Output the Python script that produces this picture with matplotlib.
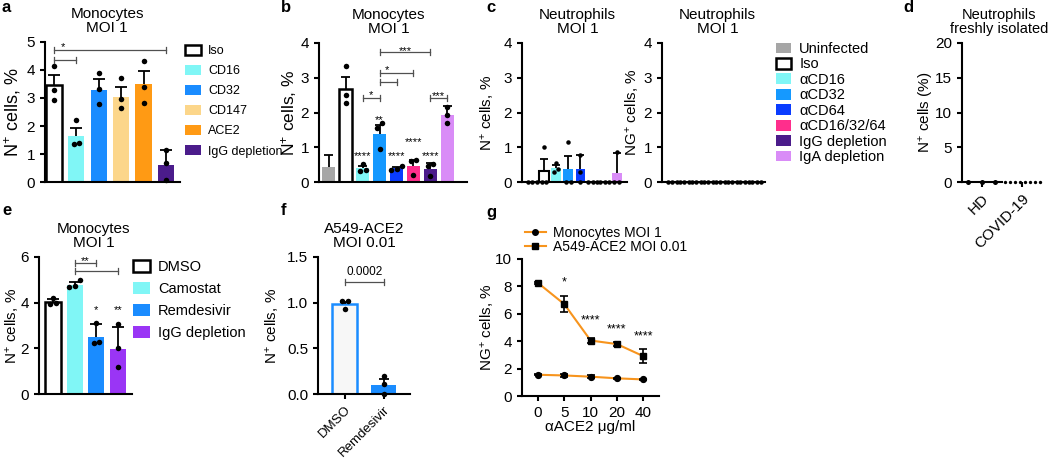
import numpy as np
import matplotlib
matplotlib.use('Agg')
import matplotlib.pyplot as plt
from matplotlib.patches import Patch
from matplotlib.lines import Line2D

# ---------------- data ----------------
a_labels = ['Iso', 'CD16', 'CD32', 'CD147', 'ACE2', 'IgG depletion']
a_means = [3.46, 1.64, 3.29, 3.05, 3.49, 0.62]
a_err = [0.37, 0.30, 0.38, 0.34, 0.46, 0.54]
a_points = [[4.13, 3.30, 2.93], [2.22, 1.38, 1.35], [3.91, 3.31, 2.79],
            [3.71, 2.95, 2.63], [4.31, 3.41, 2.81], [1.14, 0.69, 0.06]]

bc_labels = ['Uninfected', 'Iso', 'αCD16', 'αCD32', 'αCD64', 'αCD16/32/64',
             'IgG depletion', 'IgA depletion']
b_means = [0.44, 2.68, 0.40, 1.38, 0.39, 0.46, 0.37, 1.93]
b_err = [0.33, 0.34, 0.07, 0.26, 0.05, 0.18, 0.17, 0.25]
b_points = [[], [3.33, 2.51, 2.28], [0.53, 0.35, 0.32], [1.71, 1.56, 0.94],
            [0.46, 0.38, 0.35], [0.63, 0.61, 0.21], [0.52, 0.45, 0.16],
            [2.17, 1.93, 1.71]]

c1_means = [0.0, 0.31, 0.41, 0.37, 0.37, 0.0, 0.0, 0.27]
c1_err = [0.0, 0.35, 0.07, 0.38, 0.40, 0.0, 0.0, 0.57]
c1_points = [[0, 0, 0], [1.0, 0, 0], [0.56, 0.38, 0.29], [1.15, 0, 0],
             [0.79, 0.3, 0], [0, 0, 0], [0, 0, 0], [0.85, 0, 0]]

c2_means = [0, 0, 0, 0, 0, 0, 0, 0]
c2_points = [[0, 0, 0]] * 8

d_groups = ['HD', 'COVID-19']
d_hd = [0, 0, 0]
d_covid = [0, 0, 0, 0, 0, 0, 0, 0]

e_labels = ['DMSO', 'Camostat', 'Remdesivir', 'IgG depletion']
e_means = [4.02, 4.77, 2.50, 1.95]
e_err = [0.14, 0.14, 0.55, 1.0]
e_points = [[4.22, 3.97, 3.92], [4.98, 4.74, 4.69], [3.12, 2.25, 2.27],
            [3.06, 2.0, 1.19]]

f_labels = ['DMSO', 'Remdesivir']
f_means = [0.98, 0.10]
f_err = [0.03, 0.06]
f_points = [[1.02, 1.02, 0.93], [0.20, 0.11, 0.0]]

g_conc = ['0', '5', '10', '20', '40']
g_mono = [1.55, 1.50, 1.41, 1.29, 1.21]
g_mono_err = [0.04, 0.10, 0.12, 0.05, 0.04]
g_a549 = [8.25, 6.70, 4.05, 3.79, 2.91]
g_a549_err = [0.10, 0.58, 0.15, 0.12, 0.53]

# ---------------- style ----------------
plt.rcParams.update({
    'font.family': ['Liberation Sans', 'DejaVu Sans'],
    'font.size': 11,
    'axes.linewidth': 1.5,
    'xtick.major.width': 1.5, 'ytick.major.width': 1.5,
    'xtick.major.size': 3.6, 'ytick.major.size': 3.6,
    'xtick.labelsize': 11, 'ytick.labelsize': 11,
    'mathtext.fontset': 'custom',
    'mathtext.rm': 'Liberation Sans',
    'mathtext.it': 'Liberation Sans:italic',
    'mathtext.bf': 'Liberation Sans:bold',
})

W, H = 1050, 462
fig = plt.figure(figsize=(W / 100, H / 100), dpi=100)


def rect(x0, y0, x1, y1):
    return [x0 / W, 1 - y1 / H, (x1 - x0) / W, (y1 - y0) / H]


def make_ax(x0, y0, x1, y1):
    ax = fig.add_axes(rect(x0, y0, x1, y1))
    ax.spines[['top', 'right']].set_visible(False)
    ax._px = (x0, x1)
    return ax


def ylabel_at(ax, text, right_px, fs=11):
    x0, x1 = ax._px
    ax.set_ylabel(text, fontsize=fs)
    ax.yaxis.set_label_coords((right_px - x0) / (x1 - x0), 0.5)


def swarm_offsets(vals, ypu, xpu, d):
    vals = np.asarray(vals, float)
    order = np.argsort(vals)
    offs = np.zeros(len(vals))
    clusters, cur = [], [order[0]]
    for i in order[1:]:
        if (vals[i] - vals[cur[-1]]) * ypu < d:
            cur.append(i)
        else:
            clusters.append(cur)
            cur = [i]
    clusters.append(cur)
    for cl in clusters:
        n = len(cl)
        for k, i in enumerate(cl):
            offs[i] = (k - (n - 1) / 2) * d / xpu
    return offs


def bar_panel(ax, means, errs, points, faces, edges, lws, width, ypu, xpu,
              dot_px, cap_px=5):
    x = np.arange(len(means))
    ax.bar(x, means, width=width, color=faces, edgecolor=edges,
           linewidth=lws, zorder=2)
    if errs is not None:
        for xi, m, e in zip(x, means, errs):
            if e > 0:
                ax.vlines(xi, m, m + e, color='black', lw=1.3, zorder=3)
                ax.hlines(m + e, xi - cap_px / xpu, xi + cap_px / xpu,
                          color='black', lw=1.3, zorder=3)
    for xi, pts in zip(x, points):
        if len(pts) == 0:
            continue
        off = swarm_offsets(pts, ypu, xpu, dot_px)
        ax.plot(xi + off, pts, 'o', color='black', ms=dot_px * 0.72, mew=0,
                zorder=4, clip_on=False)
    ax.set_xticks([])


def star(ax, x, y, s, fs=8):
    ax.annotate(s, (x, y), xytext=(0, -4.3), textcoords='offset points',
                ha='center', va='baseline', fontsize=fs, annotation_clip=False)


def bracket(ax, x1, x2, y, ypu, label=None, lx=None, fs=8, above_px=6):
    h = 3 / ypu
    kw = dict(color='#505050', lw=0.9, clip_on=False, zorder=5)
    ax.plot([x1, x2], [y, y], **kw)
    ax.plot([x1, x1], [y - h, y + h], **kw)
    ax.plot([x2, x2], [y - h, y + h], **kw)
    if label:
        star(ax, (x1 + x2) / 2 if lx is None else lx, y + above_px / ypu,
             label, fs)


def title(ax, text, xc, fs=11):
    t = ax.set_title(text, fontsize=fs, linespacing=1.05, pad=7)
    t.set_x(xc)


WHITE_EDGE = 1.8
cyan = '#80f6f6'
blue = '#1a8cff'
blue2 = '#1599ff'
dblue = '#0a3cff'
pink = '#ff2e8c'
dpurple = '#4b1c8b'
lilac = '#d98cf7'
gray = '#a6a6a6'
orange = '#ff9a14'
peach = '#fcd68a'
purple = '#9a35f5'
gorange = '#f7941d'

# ---------------- panel a ----------------
ax = make_ax(45, 42, 180, 182)
bar_panel(ax, a_means, a_err, a_points,
          ['white', cyan, blue, peach, orange, dpurple],
          ['black', 'none', 'none', 'none', 'none', 'none'],
          [WHITE_EDGE, 0, 0, 0, 0, 0], 0.72, 28, 22.4, 5.5, 6)
ax.set_xlim(-0.4, 5.63)
ax.set_ylim(0, 5)
ax.set_yticks([0, 1, 2, 3, 4, 5])
ylabel_at(ax, 'N$^{+}$ cells, %', 23, fs=13)
title(ax, 'Monocytes\nMOI 1', 0.46)
bracket(ax, 0, 1, 4.36, 28)
bracket(ax, 0, 5, 4.71, 28, '*', lx=0.42)
ha = [Patch(facecolor=f, edgecolor=e, linewidth=lw) for f, e, lw in
      zip(['white', cyan, blue, peach, orange, dpurple],
          ['black', cyan, blue, peach, orange, dpurple],
          [WHITE_EDGE, 0, 0, 0, 0, 0])]
ax.legend(ha, a_labels, loc='upper left', bbox_to_anchor=(185 / W, 1 - 45 / H),
          bbox_transform=fig.transFigure, frameon=False, fontsize=9,
          handlelength=1.25, handleheight=0.9, handletextpad=0.6,
          labelspacing=0.6, borderpad=0, borderaxespad=0)

# ---------------- panel b ----------------
bc_faces = [gray, 'white', cyan, blue2, dblue, pink, dpurple, lilac]
bc_edges = ['none', 'black'] + ['none'] * 6
bc_lws = [0, WHITE_EDGE] + [0] * 6
ax = make_ax(319, 43, 467, 182)
bar_panel(ax, b_means, b_err, b_points, bc_faces, bc_edges, bc_lws, 0.77,
          34.75, 16.9, 5.5, 4.5)
ax.set_xlim(-0.59, 8.17)
ax.set_ylim(0, 4)
ax.set_yticks([0, 1, 2, 3, 4])
ylabel_at(ax, 'N$^{+}$ cells, %', 299, fs=12.5)
title(ax, 'Monocytes\nMOI 1', 0.47)
for xi, yy, s in [(2, 0.83, '****'), (3, 1.87, '**'), (4, 0.83, '****'),
                  (5, 1.24, '****'), (6, 0.83, '****')]:
    star(ax, xi, yy, s)
bracket(ax, 2, 3, 2.41, 34.75, '*')
bracket(ax, 3, 4, 2.88, 34.75)
bracket(ax, 3, 5, 3.14, 34.75, '*', lx=3.45)
bracket(ax, 3, 6, 3.74, 34.75, '***', above_px=4)
bracket(ax, 6, 7, 2.41, 34.75, '***', above_px=5)

# ---------------- panel c ----------------
ax = make_ax(522, 43, 627, 182)
bar_panel(ax, c1_means, c1_err, c1_points, bc_faces, bc_edges,
          [0, 1.5] + [0] * 6, 0.8, 34.75, 12.1, 4.5, 4)
ax.set_xlim(-0.83, 7.85)
ax.set_ylim(0, 4)
ax.set_yticks([0, 1, 2, 3, 4])
ylabel_at(ax, 'N$^{+}$ cells, %', 496)
title(ax, 'Neutrophils\nMOI 1', 0.53)

ax = make_ax(662, 43, 765, 182)
bar_panel(ax, c2_means, None, c2_points, bc_faces, bc_edges,
          [0] * 8, 0.8, 34.75, 12.1, 4.5, 4)
ax.set_xlim(-0.83, 7.69)
ax.set_ylim(0, 4)
ax.set_yticks([0, 1, 2, 3, 4])
ylabel_at(ax, 'NG$^{+}$ cells, %', 641)
title(ax, 'Neutrophils\nMOI 1', 0.54)
hc = [Patch(facecolor=f, edgecolor=(e if e != 'none' else f), linewidth=lw)
      for f, e, lw in zip(bc_faces, bc_edges, bc_lws)]
ax.legend(hc, bc_labels, loc='upper left', bbox_to_anchor=(776 / W, 1 - 42 / H),
          bbox_transform=fig.transFigure, frameon=False, fontsize=10.5,
          handlelength=1.05, handleheight=0.75, handletextpad=0.55,
          labelspacing=0.1, borderpad=0, borderaxespad=0)

# ---------------- panel d ----------------
ax = make_ax(962, 43, 1045, 182)
hd_off = np.linspace(-0.34, 0.33, len(d_hd))
cv_off = np.linspace(-0.43, 0.45, len(d_covid))
ax.plot(0 + hd_off, d_hd, 'o', color='black', ms=3.6, mew=0, clip_on=False,
        zorder=4)
ax.plot(1 + cv_off, d_covid, 'o', color='black', ms=2.4, mew=0, clip_on=False,
        zorder=4)
ax.set_xlim(-0.5, 1.575)
ax.set_ylim(0, 20)
ax.set_yticks([0, 5, 10, 15, 20])
ax.spines['bottom'].set_bounds(-0.5, 0.5)
ax.set_xticks([0, 1])
ax.set_xticklabels(d_groups, rotation=45, ha='right', rotation_mode='anchor')
ylabel_at(ax, 'N$^{+}$ cells (%)', 936)
title(ax, 'Neutrophils\nfreshly isolated', 0.45, fs=10.5)

# ---------------- panel e ----------------
ax = make_ax(39, 257, 132, 394)
bar_panel(ax, e_means, e_err, e_points, ['white', cyan, blue, purple],
          ['black', 'none', 'none', 'none'], [WHITE_EDGE, 0, 0, 0], 0.74,
          22.83, 21.7, 5.5, 6)
ax.set_xlim(-0.645, 3.64)
ax.set_ylim(0, 6)
ax.set_yticks([0, 2, 4, 6])
ylabel_at(ax, 'N$^{+}$ cells, %', 21)
title(ax, 'Monocytes\nMOI 1', 0.59)
star(ax, 2, 3.8, '*')
star(ax, 3, 3.8, '**')
bracket(ax, 1, 2, 5.75, 22.83, '**', above_px=5)
bracket(ax, 1, 3, 5.4, 22.83)
he = [Patch(facecolor=f, edgecolor=e, linewidth=lw) for f, e, lw in
      zip(['white', cyan, blue, purple], ['black', cyan, blue, purple],
          [WHITE_EDGE, 0, 0, 0])]
ax.legend(he, e_labels, loc='upper left', bbox_to_anchor=(133 / W, 1 - 260 / H),
          bbox_transform=fig.transFigure, frameon=False, fontsize=10.5,
          handlelength=1.15, handleheight=0.9, handletextpad=0.55,
          labelspacing=0.55, borderpad=0, borderaxespad=0)

# ---------------- panel f ----------------
ax = make_ax(318, 257, 410, 394)
bar_panel(ax, f_means, f_err, f_points, ['#f7f7f7', blue], [blue, 'none'],
          [1.8, 0], 0.64, 91.3, 39, 5.5, 5)
ax.set_xlim(-0.69, 1.67)
ax.set_ylim(0, 1.5)
ax.set_yticks([0, 0.5, 1.0, 1.5])
ax.set_yticklabels(['0.0', '0.5', '1.0', '1.5'])
ax.set_xticks([0, 1])
ax.set_xticklabels(f_labels, rotation=45, ha='right', rotation_mode='anchor',
                   fontsize=9.5)
ylabel_at(ax, 'N$^{+}$ cells, %', 281)
title(ax, 'A549-ACE2\nMOI 0.01', 0.5)
bracket(ax, 0, 1, 1.23, 91.3)
ax.text(0.5, 1.23 + 4 / 91.3, '0.0002', ha='center', va='bottom', fontsize=8.5)

# ---------------- panel g ----------------
ax = make_ax(522, 259, 659, 396)
xg = np.arange(len(g_conc))
ax.plot(xg, g_mono, color=gorange, lw=1.5, zorder=2)
ax.plot(xg, g_a549, color=gorange, lw=1.5, zorder=2)
ax.errorbar(xg, g_mono, yerr=g_mono_err, fmt='o', color='black', ms=4.2,
            capsize=3, elinewidth=1.2, capthick=1.2, zorder=3)
ax.errorbar(xg, g_a549, yerr=g_a549_err, fmt='s', color='black', ms=4.2,
            capsize=3, elinewidth=1.2, capthick=1.2, zorder=3)
ax.set_xlim(-0.61, 4.6)
ax.set_ylim(0, 10)
ax.set_yticks([0, 2, 4, 6, 8, 10])
ax.set_xticks(xg)
ax.set_xticklabels(g_conc)
ax.set_xlabel('αACE2 μg/ml', labelpad=0)
ylabel_at(ax, 'NG$^{+}$ cells, %', 496)
for xi, yy, s in [(1, 8.5, '*'), (2, 5.7, '****'), (3, 5.1, '****'),
                  (4, 4.54, '****')]:
    star(ax, xi, yy, s, fs=9)
hg = [Line2D([], [], color=gorange, lw=1.5, marker='o', mfc='black',
             mec='black', ms=4),
      Line2D([], [], color=gorange, lw=1.5, marker='s', mfc='black',
             mec='black', ms=4)]
ax.legend(hg, ['Monocytes MOI 1', 'A549-ACE2 MOI 0.01'], loc='upper left',
          bbox_to_anchor=(525 / W, 1 - 226 / H), bbox_transform=fig.transFigure,
          frameon=False, fontsize=10, handlelength=1.5, handletextpad=0.5,
          labelspacing=0.0, borderpad=0, borderaxespad=0)

# ---------------- panel labels ----------------
for lab, x, y in [('a', 2, 8), ('b', 281, 8), ('c', 486, 8), ('d', 903, 8),
                  ('e', 2, 210), ('f', 281, 210), ('g', 486, 212)]:
    fig.text(x / W, 1 - y / H, lab, fontsize=12, fontweight='bold',
             ha='left', va='center')

fig.savefig('out.png', dpi=100)
